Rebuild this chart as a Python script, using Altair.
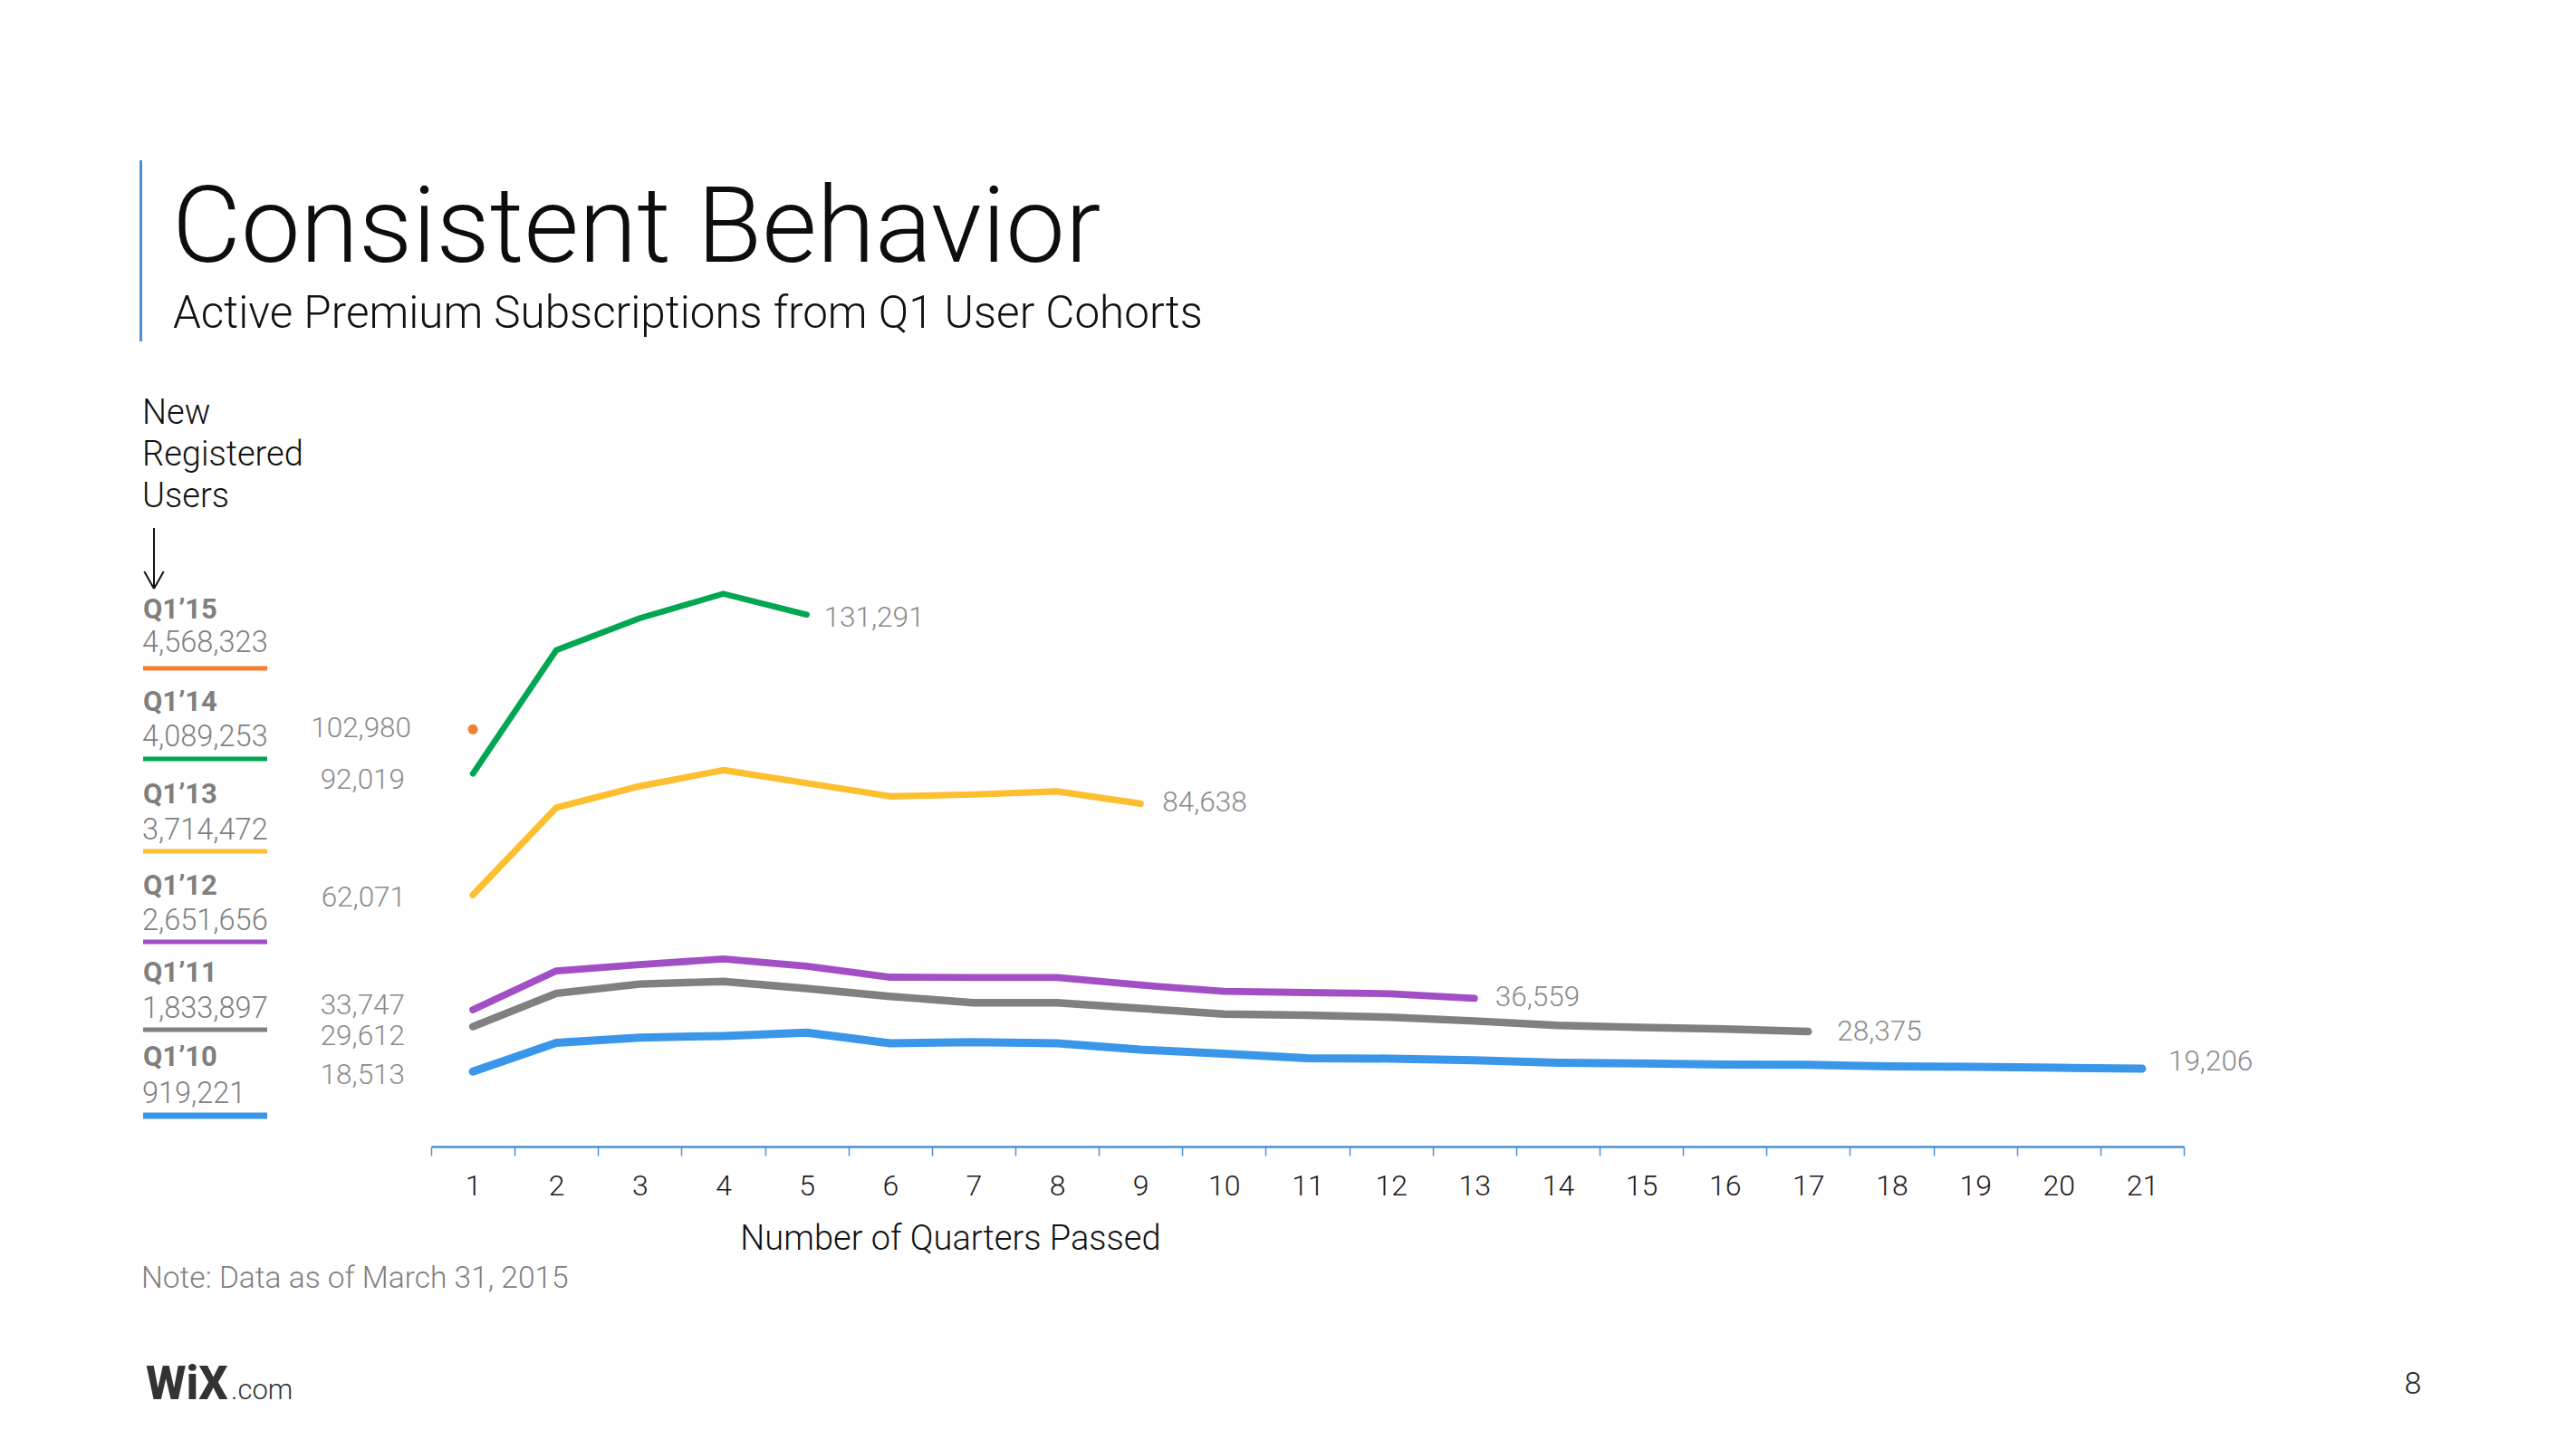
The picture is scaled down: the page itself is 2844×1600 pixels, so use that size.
import altair as alt
import pandas as pd

# ---------------- data ----------------
quarters = list(range(1, 22))
cohorts = ["Q1’10", "Q1’11", "Q1’12", "Q1’13", "Q1’14", "Q1’15"]
registered_users = [919221, 1833897, 2651656, 3714472, 4089253, 4568323]

subs_q1_10 = [18513, 25600, 26900, 27300, 28100, 25500, 25750, 25500, 23900, 22900,
              21800, 21700, 21300, 20700, 20500, 20250, 20150, 19800, 19650, 19450, 19206]
subs_q1_11 = [29612, 37800, 40100, 40750, 39000, 37050, 35500, 35500, 34100, 32700,
              32400, 31900, 31000, 29900, 29400, 29000, 28375]
subs_q1_12 = [33747, 43350, 44900, 46300, 44500, 41800, 41700, 41700, 39850, 38300,
              38000, 37700, 36559]
subs_q1_13 = [62071, 83650, 88950, 92900, 89700, 86450, 86900, 87650, 84638]
subs_q1_14 = [92019, 122550, 130400, 136450, 131291]
subs_q1_15 = [102980]
series = [subs_q1_10, subs_q1_11, subs_q1_12, subs_q1_13, subs_q1_14, subs_q1_15]

title_text = "Consistent Behavior"
subtitle_text = "Active Premium Subscriptions from Q1 User Cohorts"
side_heading = ["New", "Registered", "Users"]
x_title = "Number of Quarters Passed"
note_text = "Note: Data as of March 31, 2015"
page_number = "8"

rows = []
for c, vals in zip(cohorts, series):
    for q, v in zip(quarters, vals):
        rows.append({"cohort": c, "quarter": q, "value": v})
df = pd.DataFrame(rows)

# ---------------- styles ----------------
FONT = "Roboto"
colors = ["#3A96E8", "#808080", "#A24FC6", "#FDBF2F", "#00A651", "#F47D30"]
widths = [9, 6, 6, 5, 4, 4]
legend_widths = [7, 5, 5, 5, 5, 5]
AXIS_BLUE = "#4A90D9"
LABEL_GREY = "#8a8a8a"

OX, OY = 476, 595          # plot-area origin on the page
W, H = 1935, 671

start_dx = {"Q1’10": -75, "Q1’11": -75, "Q1’12": -75, "Q1’13": -74, "Q1’14": -75, "Q1’15": -68}
start_dy = {"Q1’10": 5, "Q1’11": 11, "Q1’12": -4.5, "Q1’13": 4, "Q1’14": 8, "Q1’15": 0}
end_dx = {"Q1’10": 29, "Q1’11": 32, "Q1’12": 23, "Q1’13": 24, "Q1’14": 19}
end_dy = {"Q1’10": -7, "Q1’11": 1, "Q1’12": 0, "Q1’13": 0, "Q1’14": 4}

tick_vals = sorted([q - 0.5 for q in quarters] + [quarters[-1] + 0.5] + quarters)

X = alt.X(
    "quarter:Q",
    scale=alt.Scale(domain=[0.5, 21.5], nice=False, zero=False),
    axis=alt.Axis(
        values=tick_vals,
        labelExpr="datum.value % 1 === 0 ? format(datum.value, 'd') : ''",
        tickOpacity={"condition": {"test": "datum.value % 1 === 0", "value": 0}, "value": 1},
        labelOverlap=False,
        labelFlush=False,
        grid=False,
        domainColor=AXIS_BLUE,
        domainWidth=2.5,
        tickColor=AXIS_BLUE,
        tickWidth=1.5,
        tickSize=10,
        labelFont=FONT,
        labelFontSize=32,
        labelFontWeight=300,
        labelColor="#1a1a1a",
        labelPadding=18,
        title=x_title,
        titleFont=FONT,
        titleFontSize=38,
        titleFontWeight=300,
        titleColor="#111111",
        titleX=573,
        titleY=102,
        titleAlign="center",
        titleBaseline="middle",
    ),
)
Y = alt.Y("value:Q", scale=alt.Scale(domain=[0, 150000], nice=False, zero=True), axis=None)

base = alt.Chart(df)

lines = base.mark_line(strokeCap="round", strokeJoin="round").encode(
    x=X,
    y=Y,
    color=alt.Color("cohort:N", scale=alt.Scale(domain=cohorts, range=colors), legend=None),
    strokeWidth=alt.StrokeWidth("cohort:N", scale=alt.Scale(domain=cohorts, range=widths), legend=None),
    detail="cohort:N",
    order="quarter:Q",
)

dot = base.transform_filter(alt.datum.cohort == cohorts[-1]).mark_circle(
    size=120, opacity=1, color=colors[-1]
).encode(x=X, y=Y)

layers = [lines, dot]

# value labels at the start of each cohort line
for c in cohorts:
    layers.append(
        base.transform_filter(alt.datum.cohort == c)
        .transform_filter(alt.datum.quarter == 1)
        .mark_text(align="right", baseline="middle", dx=start_dx[c], dy=start_dy[c],
                   font=FONT, fontSize=31.5, fontWeight=300, color=LABEL_GREY)
        .encode(x=X, y=Y, text=alt.Text("value:Q", format=","))
    )

# value labels at the end of each cohort line
for c in cohorts[:-1]:
    layers.append(
        base.transform_filter(alt.datum.cohort == c)
        .transform_joinaggregate(lastq="max(quarter)")
        .transform_filter("datum.quarter == datum.lastq")
        .mark_text(align="left", baseline="middle", dx=end_dx[c], dy=end_dy[c],
                   font=FONT, fontSize=31.5, fontWeight=300, color=LABEL_GREY)
        .encode(x=X, y=Y, text=alt.Text("value:Q", format=","))
    )


def label(text, x, y, size, weight=300, color="#111111", align="left"):
    return alt.Chart(pd.DataFrame({"t": [text]})).mark_text(
        align=align, baseline="alphabetic", font=FONT, fontSize=size,
        fontWeight=weight, color=color,
    ).encode(x=alt.value(x - OX), y=alt.value(y - OY), text="t:N")


def seg(x1, y1, x2, y2, color, w):
    return alt.Chart(pd.DataFrame({"k": [0]})).mark_rule(
        color=color, strokeWidth=w, strokeCap="butt"
    ).encode(x=alt.value(x1 - OX), y=alt.value(y1 - OY),
             x2=alt.value(x2 - OX), y2=alt.value(y2 - OY))


# slide header
layers.append(seg(155.5, 177, 155.5, 377, AXIS_BLUE, 3))
layers.append(label(title_text, 190, 289, 117, weight=300, color="#0d0d0d"))
layers.append(label(subtitle_text, 191, 362, 49.4, weight=300, color="#111111"))

# "New Registered Users" heading and arrow
for txt, yb in zip(side_heading, [468, 514, 560]):
    layers.append(label(txt, 157, yb, 38, weight=300))
layers.append(seg(170, 583, 170, 650, "#111111", 2))
layers.append(seg(159.3, 631, 170, 650, "#111111", 2))
layers.append(seg(180.7, 631, 170, 650, "#111111", 2))

# legend (top: newest cohort)
name_base = [1177, 1084, 988, 887, 784.5, 683]
value_base = [1218, 1123.5, 1027, 927, 824, 720]
line_y = [1232, 1137, 1040, 940, 838, 738]
for i, c in enumerate(cohorts):
    layers.append(label(c, 158, name_base[i], 31, weight=700, color="#7f7f7f"))
    layers.append(label(f"{registered_users[i]:,}", 157, value_base[i], 32.5, weight=300, color="#808080"))
    layers.append(seg(158, line_y[i], 295, line_y[i], colors[i], legend_widths[i]))

# footer
layers.append(label(note_text, 156, 1422, 33.5, weight=300, color="#7f7f7f"))
layers.append(label("WiX", 161, 1545, 51, weight=800, color="#333333"))
layers.append(label(".com", 255, 1545, 31, weight=300, color="#333333"))
layers.append(label(page_number, 2664, 1539, 34, weight=300, color="#222222", align="center"))

chart = alt.layer(*layers).properties(
    width=W,
    height=H,
    autosize=alt.AutoSizeParams(type="none"),
    padding={"left": OX - 8, "top": OY - 8, "right": 2828 - (OX - 8) - W, "bottom": 1580 - (OY - 8) - H},
    background="white",
).configure_view(stroke=None)

chart.save("out.html", embed_options={"renderer": "svg", "actions": False})
